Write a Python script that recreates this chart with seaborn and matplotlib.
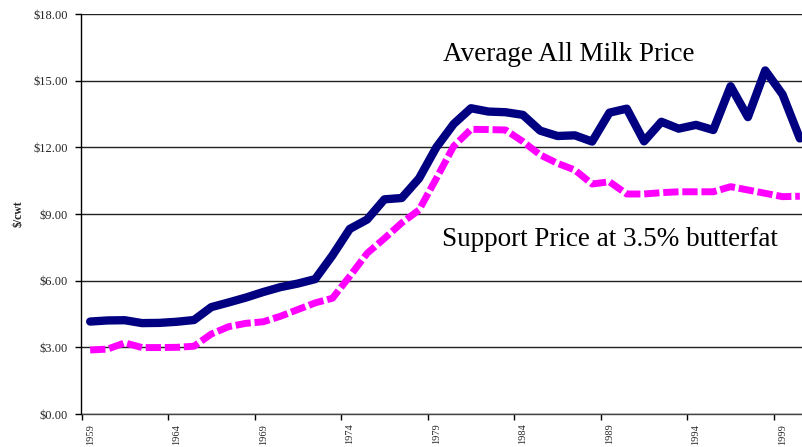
import matplotlib
matplotlib.use("Agg")
import matplotlib.pyplot as plt
import seaborn as sns
import pandas as pd
from matplotlib.ticker import FixedLocator, FuncFormatter

years = list(range(1959, 2001))
all_milk = [4.16, 4.21, 4.22, 4.09, 4.10, 4.15, 4.23, 4.81, 5.02, 5.24,
            5.49, 5.71, 5.87, 6.07, 7.14, 8.33, 8.75, 9.66, 9.72, 10.60,
            12.00, 13.05, 13.76, 13.61, 13.58, 13.46, 12.75, 12.51, 12.54, 12.26,
            13.56, 13.74, 12.27, 13.15, 12.84, 13.01, 12.78, 14.75, 13.36, 15.46,
            14.38, 12.40]
support = [2.88, 2.92, 3.20, 2.99, 2.99, 3.00, 3.05, 3.60, 3.93, 4.08,
           4.15, 4.40, 4.70, 5.00, 5.21, 6.20, 7.23, 7.90, 8.60, 9.18,
           10.60, 12.05, 12.81, 12.80, 12.78, 12.26, 11.66, 11.28, 10.98, 10.35,
           10.45, 9.90, 9.90, 9.96, 10.00, 10.00, 10.00, 10.23, 10.08, 9.93,
           9.78, 9.80]
label_years = [1959, 1964, 1969, 1974, 1979, 1984, 1989, 1994, 1999]
y_ticks = [0, 3, 6, 9, 12, 15, 18]
label_all = "Average All Milk Price"
label_support = "Support Price at 3.5% butterfat"
y_label = "$/cwt"

sns.set_style("white")
plt.rcParams['font.family'] = ['Liberation Serif', 'DejaVu Serif']

fig = plt.figure(figsize=(8.03, 4.47), dpi=100)
ax = fig.add_axes([81.5 / 803, 1 - 414 / 447, (808.5 - 81.5) / 803, (414 - 14) / 447])

df = pd.DataFrame({"year": years, "all_milk": all_milk, "support": support})

sns.lineplot(data=df, x="year", y="support", ax=ax, color="#FF00FF",
             linewidth=5.0, dashes=False, zorder=3)
ax.lines[-1].set_dashes([2.2, 0.55])
ax.lines[-1].set_dash_capstyle("butt")
sns.lineplot(data=df, x="year", y="all_milk", ax=ax, color="#000080",
             linewidth=6.0, zorder=4)
ax.lines[-1].set_solid_capstyle("round")
ax.lines[-1].set_solid_joinstyle("round")

ax.set_xlim(1958.5, 2000.5)
ax.set_ylim(0, 18)

# horizontal gridlines
for v in y_ticks:
    ax.axhline(v, color="#222222", linewidth=1.0, zorder=1)

ax.set_yticks(y_ticks)
ax.yaxis.set_major_formatter(FuncFormatter(lambda v, p: f"${v:.2f}"))
ax.tick_params(axis="y", direction="out", length=4, width=1, pad=6,
               labelsize=9, left=True, color="black")

# labels centered on categories, ticks on category boundaries
ax.set_xticks(label_years)
ax.set_xticklabels([str(y) for y in label_years], rotation=90, fontsize=7.5)
ax.tick_params(axis="x", which="major", length=0, pad=7)
ax.xaxis.set_minor_locator(FixedLocator([y - 0.5 for y in label_years]))
ax.tick_params(axis="x", which="minor", direction="out", length=4, width=1,
               bottom=True, color="black")

for s in ["top", "right"]:
    ax.spines[s].set_visible(False)
ax.spines["left"].set_color("black")
ax.spines["left"].set_linewidth(1.0)
ax.spines["bottom"].set_color("#444444")
ax.spines["bottom"].set_linewidth(1.0)

ax.set_xlabel("")
ax.set_ylabel(y_label, fontsize=8.5, fontweight="bold", labelpad=6)

ax.text(1979.38, 15.89, label_all, fontsize=19.5, va="baseline", ha="left",
        color="black")
ax.text(1979.35, 7.54, label_support, fontsize=19.5, va="baseline", ha="left",
        color="black")

fig.savefig("out.png", dpi=100)
